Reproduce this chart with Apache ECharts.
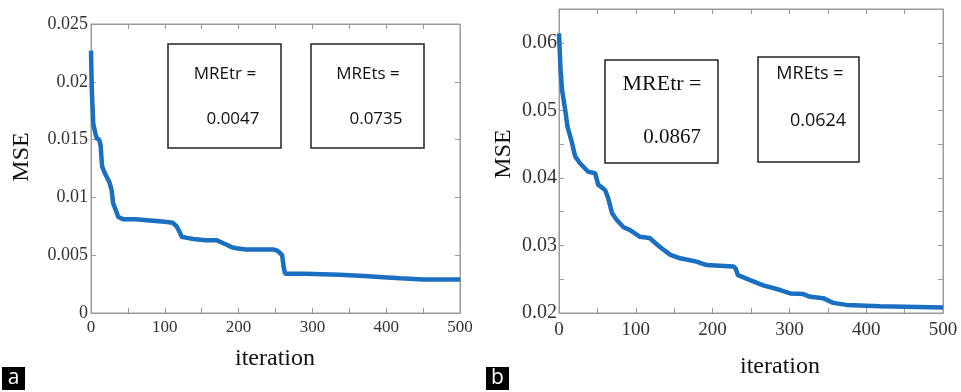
<!DOCTYPE html>
<html>
<head>
<meta charset="utf-8">
<script src="https://cdn.jsdelivr.net/npm/echarts@6/dist/echarts.min.js"></script>
<style>
  html, body { margin: 0; padding: 0; background: #fff; }
  #chart { width: 961px; height: 392px; }
</style>
</head>
<body>
<div id="chart"></div>
<script>
// panel a: training curve
const iterA = [0, 1, 3, 6, 8, 11, 13, 15, 18, 21, 25, 28, 30, 33, 37, 44, 60, 80, 100, 111, 116, 120, 123, 130, 139, 155, 170, 177, 184, 190, 197, 210, 230, 247, 252, 256, 259, 261, 263, 267, 290, 337, 370, 396, 419, 450, 500]
const mseA = [0.0227, 0.0195, 0.0164, 0.0155, 0.0151, 0.0150, 0.0145, 0.0127, 0.0122, 0.0118, 0.0113, 0.0106, 0.0095, 0.0090, 0.0083, 0.0081, 0.0081, 0.0080, 0.0079, 0.0078, 0.0075, 0.0070, 0.0066, 0.0065, 0.0064, 0.0063, 0.0063, 0.0061, 0.0059, 0.0057, 0.0056, 0.0055, 0.0055, 0.0055, 0.0054, 0.0052, 0.0050, 0.0040, 0.0034, 0.0034, 0.0034, 0.0033, 0.0032, 0.0031, 0.0030, 0.0029, 0.0029]
// panel b
const iterB = [0, 2, 4, 8, 11, 16, 21, 27, 38, 47, 51, 60, 64, 69, 75, 84, 92, 105, 118, 131, 145, 158, 179, 192, 227, 230, 233, 244, 266, 288, 301, 318, 327, 344, 357, 374, 418, 500]
const mseB = [0.0614, 0.0560, 0.0530, 0.0501, 0.0476, 0.0456, 0.0432, 0.0422, 0.0409, 0.0407, 0.0390, 0.0382, 0.0370, 0.0348, 0.0338, 0.0327, 0.0323, 0.0313, 0.0311, 0.0298, 0.0286, 0.0281, 0.0276, 0.0271, 0.0269, 0.0266, 0.0256, 0.0251, 0.0241, 0.0234, 0.0229, 0.0228, 0.0224, 0.0222, 0.0215, 0.0212, 0.0210, 0.0208]

const xTicks = [0, 100, 200, 300, 400, 500]
const labelsA = ['0', '0.005', '0.01', '0.015', '0.02', '0.025']
const labelsB = ['0.02', '0.03', '0.04', '0.05', '0.06']

const lineColor = '#1b6fc0'
const frame = '#9a9a9a'
const serif = '"Liberation Serif", "DejaVu Serif", serif'
const sans = '"Open Sans", "Liberation Sans", sans-serif'

const chart = echarts.init(document.getElementById('chart'))

function xAx (grid, pos, size, margin) {
  return {
    type: 'value',
    gridIndex: grid,
    position: pos,
    min: 0,
    max: 500,
    interval: 50,
    axisLine: { show: true, onZero: false, lineStyle: { color: frame } },
    axisTick: { show: true, inside: true, length: 5, lineStyle: { color: frame } },
    splitLine: { show: false },
    axisLabel: {
      show: pos === 'bottom',
      margin: margin,
      fontFamily: serif,
      fontSize: size,
      color: '#333',
      formatter: v => xTicks.indexOf(v) >= 0 ? String(v) : ''
    }
  }
}

function yAx (grid, pos, min, max, labels, size, margin) {
  return {
    type: 'value',
    gridIndex: grid,
    position: pos,
    min: min,
    max: max,
    interval: 0.005,
    axisLine: { show: true, onZero: false, lineStyle: { color: frame } },
    axisTick: { show: true, inside: true, length: 5, lineStyle: { color: frame } },
    splitLine: { show: false },
    axisLabel: {
      show: pos === 'left',
      margin: margin,
      fontFamily: serif,
      fontSize: size,
      color: '#333',
      showMaxLabel: true,
      formatter: v => {
        const s = String(+v.toFixed(4))
        return labels.indexOf(s) >= 0 ? s : ''
      }
    }
  }
}

function box (x, y, w, h) {
  return {
    type: 'rect',
    shape: { x: x, y: y, width: w, height: h },
    style: { fill: 'none', stroke: '#222', lineWidth: 1.5 }
  }
}

function txt (x, y, text, font, size, rot) {
  return {
    type: 'text',
    x: x,
    y: y,
    rotation: rot || 0,
    style: {
      text: text,
      fontFamily: font,
      fontSize: size,
      fill: '#111',
      align: 'center',
      verticalAlign: 'middle'
    }
  }
}

function badge (x, letter) {
  return {
    type: 'group',
    children: [
      { type: 'rect', shape: { x: x, y: 367, width: 23, height: 23 }, style: { fill: '#000' } },
      { type: 'text', x: x + 11.5, y: 378.5, style: { text: letter, fontFamily: sans, fontSize: 21, fill: '#fff', align: 'center', verticalAlign: 'middle' } }
    ]
  }
}

const option = {
  animation: false,
  backgroundColor: '#fff',
  grid: [
    { left: 91, top: 24, width: 369, height: 289, show: true, borderColor: frame, borderWidth: 1 },
    { left: 559, top: 9, width: 384, height: 304, show: true, borderColor: frame, borderWidth: 1 }
  ],
  xAxis: [
    xAx(0, 'bottom', 17, 6),
    xAx(0, 'top', 17, 6),
    xAx(1, 'bottom', 19, 8),
    xAx(1, 'top', 19, 8)
  ],
  yAxis: [
    yAx(0, 'left', 0, 0.025, labelsA, 18, 3),
    yAx(0, 'right', 0, 0.025, labelsA, 18, 3),
    yAx(1, 'left', 0.02, 0.065, labelsB, 20, 2),
    yAx(1, 'right', 0.02, 0.065, labelsB, 20, 2)
  ],
  series: [
    {
      type: 'line',
      xAxisIndex: 0,
      yAxisIndex: 0,
      showSymbol: false,
      lineStyle: { color: lineColor, width: 4.5 },
      data: iterA.map((it, i) => [it, mseA[i]])
    },
    {
      type: 'line',
      xAxisIndex: 2,
      yAxisIndex: 2,
      showSymbol: false,
      lineStyle: { color: lineColor, width: 4.5 },
      data: iterB.map((it, i) => [it, mseB[i]])
    }
  ],
  graphic: [
    // axis titles
    txt(22, 157, 'MSE', serif, 24, Math.PI / 2),
    txt(275, 359, 'iteration', serif, 24),
    txt(504, 154, 'MSE', serif, 24, Math.PI / 2),
    txt(780, 367, 'iteration', serif, 24),
    // panel a boxes
    box(168, 44, 113, 104),
    txt(225, 74, 'MREtr =', sans, 17),
    txt(233, 119, '0.0047', sans, 17),
    box(311, 44, 113, 104),
    txt(368, 74, 'MREts =', sans, 17),
    txt(376, 119, '0.0735', sans, 17),
    // panel b boxes
    box(605, 60, 113, 103),
    txt(662, 84, 'MREtr =', serif, 22),
    txt(672, 137, '0.0867', serif, 21),
    box(758, 57, 101, 105),
    txt(810, 74, 'MREts =', sans, 18),
    txt(818, 121, '0.0624', sans, 18),
    badge(2, 'a'),
    badge(486, 'b')
  ]
}

chart.setOption(option)
</script>
</body>
</html>
